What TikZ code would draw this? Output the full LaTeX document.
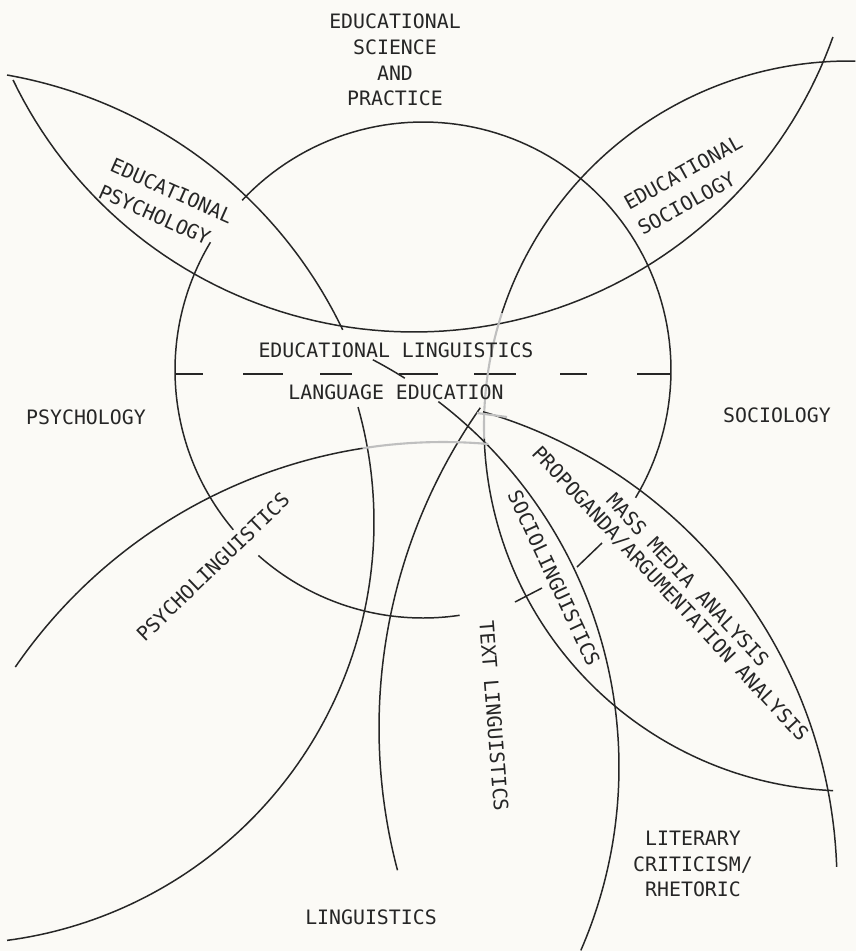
\documentclass[tikz,border=0pt]{standalone}
\usepackage{fontspec}
\setmonofont{DejaVu Sans Mono}
\usepackage{tikz}
\definecolor{paper}{RGB}{251,250,246}
\definecolor{ink}{RGB}{38,38,38}

\begin{document}
\begin{tikzpicture}[x=0.02cm,y=-0.02cm,
    pen/.style={ink,line width=0.85pt},
    pencil/.style={black!25,line width=1.2pt},
    lbl/.style={ink,inner sep=0pt,align=center,
      font=\ttfamily\fontsize{11.3}{14.6}\selectfont},
    lblwide/.style={lbl,align=left,
      font=\ttfamily\fontsize{11.3}{16.4}\selectfont}]
        % piece of a circle: [style] centre x, centre y, radius, from, to
        \def\bow[#1]#2#3#4#5#6{%
          \draw[#1] plot[domain=#5:#6,samples=90] ({#2+#4*cos(\x)},{#3+#4*sin(\x)});}

        \fill[paper] (0,0) rectangle (856,951);
        \useasboundingbox (0,0) rectangle (856,951);

        %------------------
        % educational science and practice
        %------------------
        \bow[pen]{423}{370}{248}{-136.8}{31}
        \bow[pen]{423}{370}{248}{-220.1}{-149}
        \bow[pen]{423}{370}{248}{-278.5}{-228.4}

        % dashed split of the circle
        \foreach \a/\b in {175/203,243/283,320/352,399/438,474/516,560/587,637/671}
          \draw[pen] (\a,374) -- (\b,374);

        %------------------
        % lenses at the top
        %------------------
        \bow[pen]{414}{-113}{445}{19.7}{154.3}
        \bow[pen]{-73}{529}{461}{-80}{-25.6}

        % sociology (left edge only pencilled)
        \bow[pen]{849}{426}{365}{-162}{-89}
        \bow[pencil]{849}{426}{365}{-182}{-162}
        \bow[pen]{849}{426}{365}{-267.5}{-182}

        %------------------
        % linguistics side
        %------------------
        \bow[pen]{-48}{522}{422}{-15.8}{82.5}
        \bow[pen]{936}{728}{557}{-194.8}{-144.9}
        \bow[pen]{159}{767}{460}{-62.3}{-57.7}
        \bow[pen]{159}{767}{460}{-52.6}{23.5}
        \bow[pen]{345}{884}{492}{-73.7}{-2}
        \bow[pen]{443}{961}{519}{-145.5}{-98.9}
        \bow[pencil]{443}{961}{519}{-98.9}{-85}
        \draw[pencil] (477,413) -- (507,417);

        % leader ticks
        \draw[pen] (577,567) -- (602,543);
        \draw[pen] (515,602) -- (542,588);

        %------------------
        % labels
        %------------------
        \node[lbl] (edu) at (395,60) {EDUCATIONAL\\SCIENCE\\AND\\PRACTICE};
        \node[lbl] (edling) at (396,350) {EDUCATIONAL LINGUISTICS};
        \node[lbl] (langed) at (396,392) {LANGUAGE EDUCATION};
        \node[lbl] (psy) at (86,417) {PSYCHOLOGY};
        \node[lbl] (soc) at (777,415) {SOCIOLOGY};
        \node[lblwide,rotate=-24] (edpsy) at (166,204) {EDUCATIONAL\\PSYCHOLOGY};
        \node[lblwide,rotate=29] (edsoc) at (690,185) {EDUCATIONAL\\SOCIOLOGY};
        \node[lbl,rotate=44] (psyling) at (213,567) {PSYCHOLINGUISTICS};
        \node[lbl,rotate=-65] (socling) at (554,578) {SOCIOLINGUISTICS};
        \node[lbl,rotate=-47] (propa) at (670,594) {PROPOGANDA/ARGUMENTATION ANALYSIS};
        \node[lbl,rotate=-47] (media) at (688,580) {MASS MEDIA ANALYSIS};
        \node[lbl,rotate=-85.5] (textling) at (494,716) {TEXT LINGUISTICS};
        \node[lbl] (ling) at (371,917) {LINGUISTICS};
        \node[lbl] (lit) at (693,864) {LITERARY\\CRITICISM/\\RHETORIC};
\end{tikzpicture}
\end{document}
